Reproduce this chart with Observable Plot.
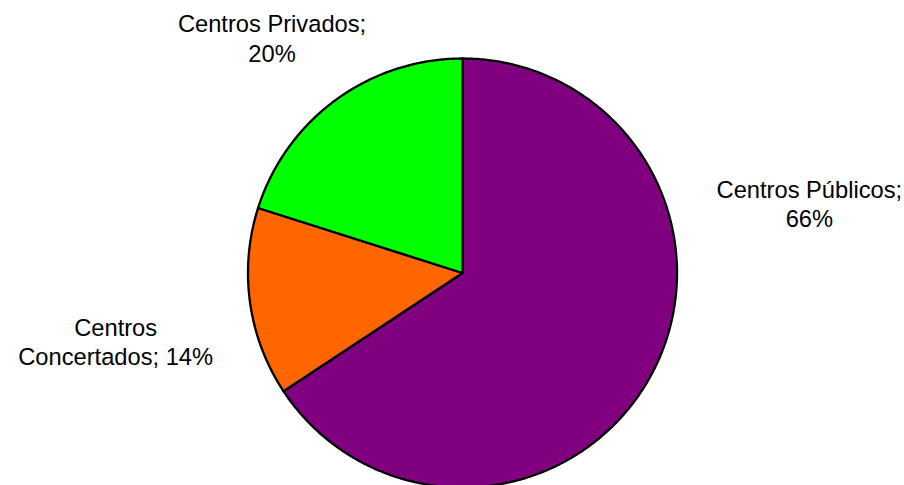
<!DOCTYPE html>
<html>
<head>
<meta charset="utf-8">
<script src="https://cdn.jsdelivr.net/npm/d3@7"></script>
<script src="https://cdn.jsdelivr.net/npm/@observablehq/plot@0.6"></script>
<style>
  html, body { margin: 0; padding: 0; background: #fff; }
  #chart svg { display: block; }
</style>
</head>
<body>
<div id="chart"></div>
<script>
// ---- data ----
const categories = ["Centros Públicos", "Centros Concertados", "Centros Privados"];
const shares = [65.7, 14.2, 20.1];

// ---- layout / style ----
const W = 904, H = 485;
const cx = 462, cy = 272.5, R = 214.5;
const colors = ["#800080", "#FF6600", "#00FF00"];
// label anchor positions in units of the pie radius (relative to its centre)
const labelPlace = {
  "Centros Públicos": [1.617, 0.326],
  "Centros Concertados": [-1.617, -0.318],
  "Centros Privados": [-0.888, 1.097]
};

const rows = categories.map((c, i) => ({cat: c, value: shares[i]}));
const pie = d3.pie().sort(null).value(d => d.value)(rows);

// outline points of each slice (centre -> arc -> centre), angles clockwise from top
const pts = [];
for (const a of pie) {
  const cat = a.data.cat;
  pts.push({cat, x: 0, y: 0});
  const n = Math.max(2, Math.ceil((a.endAngle - a.startAngle) / (Math.PI / 360)));
  for (let k = 0; k <= n; k++) {
    const t = a.startAngle + (a.endAngle - a.startAngle) * k / n;
    pts.push({cat, x: Math.sin(t), y: Math.cos(t)});
  }
  pts.push({cat, x: 0, y: 0});
}

const labels = rows.map(d => ({
  cat: d.cat,
  text: `${d.cat}; ${Math.round(d.value)}%`,
  x: labelPlace[d.cat][0],
  y: labelPlace[d.cat][1]
}));

const chart = Plot.plot({
  width: W,
  height: H,
  margin: 0,
  x: {domain: [-1, 1], range: [cx - R, cx + R], axis: null},
  y: {domain: [-1, 1], range: [cy + R, cy - R], axis: null},
  color: {domain: categories, range: colors},
  style: {fontFamily: "'Liberation Sans', Arial, sans-serif", background: "#fff"},
  marks: [
    Plot.line(pts, {
      x: "x", y: "y", z: "cat",
      fill: "cat", stroke: "black", strokeWidth: 2.3,
      strokeLinejoin: "round", curve: "linear"
    }),
    Plot.text(labels, {
      x: "x", y: "y", text: "text",
      lineWidth: 8.6, lineHeight: 1.24,
      fontSize: 23.7, fill: "#000", textAnchor: "middle"
    })
  ]
});
document.getElementById("chart").appendChild(chart);
</script>
</body>
</html>
